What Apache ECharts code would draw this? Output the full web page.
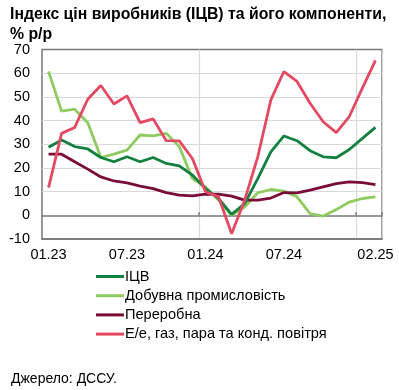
<!DOCTYPE html>
<html><head><meta charset="utf-8">
<script src="https://cdn.jsdelivr.net/npm/echarts@6/dist/echarts.min.js"></script>
<style>html,body{margin:0;padding:0;background:#fff}#c{width:399px;height:390px}</style>
</head><body><div id="c"></div>
<script>
const months = ['01.23','02.23','03.23','04.23','05.23','06.23','07.23','08.23','09.23','10.23','11.23','12.23',
 '01.24','02.24','03.24','04.24','05.24','06.24','07.24','08.24','09.24','10.24','11.24','12.24','01.25','02.25'];
const shownLabels = ['01.23','07.23','01.24','07.24','02.25'];
const yTicks = {min: -10, max: 70, step: 10};
const ppi = [28.7,31.8,29.0,28.0,24.4,22.6,24.7,22.6,24.4,21.9,20.9,17.0,11.3,7.1,0.4,4.9,15.5,26.8,33.5,31.5,27.3,24.7,24.3,27.8,32.5,37.1];
const mining = [60.7,44.0,44.8,39.1,24.4,25.8,27.5,33.9,33.5,34.6,29.0,15.5,12.0,6.4,0.0,3.5,9.5,10.9,10.2,7.8,0.7,-0.3,2.4,5.6,7.1,7.8];
const manuf = [25.8,25.8,22.6,19.5,16.2,14.5,13.7,12.3,11.3,9.6,8.5,8.2,8.9,8.9,8.1,6.4,6.4,7.3,9.6,9.5,10.6,12.0,13.4,14.1,13.8,13.0];
const energy = [11.7,34.6,37.1,49.0,54.8,47.0,50.4,39.1,40.7,31.5,31.4,24.0,10.0,7.8,-7.8,6.4,24.7,48.7,60.7,56.5,47.3,39.5,34.9,41.7,53.7,65.4];
const names = ['ІЦВ','Добувна промисловість','Переробна','Е/е, газ, пара та конд. повітря'];
const colors = ['#12803f','#8fcb60','#7a0c38','#e34a62'];

const font = 'Liberation Sans, Arial, sans-serif';
const chart = echarts.init(document.getElementById('c'), null, {renderer:'canvas'});
const splitColors = [];
for (let v = yTicks.min; v <= yTicks.max; v += yTicks.step) {
  splitColors.push((v === yTicks.min || v === yTicks.max || v === 0) ? 'rgba(0,0,0,0)' : '#d9d9d9');
}
const dataSets = [ppi, mining, manuf, energy];
chart.setOption({
  animation: false,
  title: [
    {text: 'Індекс цін виробників (ІЦВ) та його компоненти,\n% р/р', left: 5, top: 0,
     textStyle: {fontFamily: font, fontSize: 15.8, fontWeight: 'bold', color: '#000', lineHeight: 20}},
    {text: 'Джерело: ДССУ.', left: 6, top: 367,
     textStyle: {fontFamily: font, fontSize: 14, fontWeight: 'normal', color: '#000'}}
  ],
  grid: {left: 42, right: 17, top: 49.5, bottom: 151, show: true, borderColor: '#777', borderWidth: 1.5},
  legend: {
    orient: 'vertical', left: 91, top: 264, itemGap: 4.2, itemWidth: 28, itemHeight: 3, icon: 'rect',
    textStyle: {fontFamily: font, fontSize: 14.6, color: '#000', padding: [0, 0, 0, -4]},
    data: names
  },
  xAxis: [
    {type: 'category', data: months, boundaryGap: true, position: 'bottom',
     axisLine: {show: true, onZero: false, lineStyle: {color: '#777', width: 1.5}},
     axisTick: {show: false},
     axisLabel: {fontFamily: font, fontSize: 14.5, color: '#000', margin: 8,
       interval: (i, v) => shownLabels.includes(v)},
     splitLine: {show: true, interval: (i, v) => v === '01.24' || v === '01.25',
       lineStyle: {color: '#d9d9d9', width: 1.2}}},
    {type: 'category', data: months, boundaryGap: true, position: 'bottom',
     axisLine: {show: true, onZero: true, lineStyle: {color: '#777', width: 1.5}},
     axisTick: {show: true, inside: true, length: 3, lineStyle: {color: '#777', width: 1.5},
       interval: (i, v) => v === '01.24' || v === '01.25'},
     axisLabel: {show: false}, splitLine: {show: false}}
  ],
  yAxis: {type: 'value', min: yTicks.min, max: yTicks.max, interval: yTicks.step,
    axisLine: {show: false}, axisTick: {show: false},
    axisLabel: {fontFamily: font, fontSize: 14.5, color: '#000', margin: 12},
    splitLine: {show: true, lineStyle: {color: splitColors, width: 1.2}}},
  series: dataSets.map((d, k) => ({
    name: names[k], type: 'line', data: d, xAxisIndex: 0, symbol: 'none', smooth: false,
    lineStyle: {width: 2.8, color: colors[k]}, itemStyle: {color: colors[k]}, z: 3 + (k === 0 ? 3 : k)
  }))
});
</script></body></html>
